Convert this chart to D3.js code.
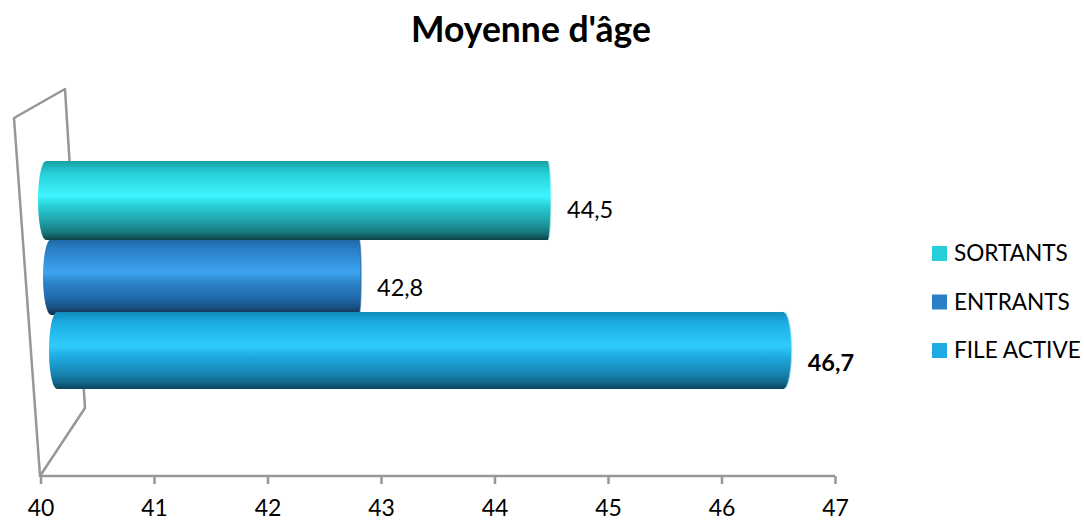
<!DOCTYPE html>
<html>
<head>
<meta charset="utf-8">
<script src="https://d3js.org/d3.v7.min.js"></script>
<style>
  html, body { margin: 0; padding: 0; background: #fff; }
  svg { display: block; }
  text { font-family: Lato, "Open Sans", sans-serif; fill: #000; }
</style>
</head>
<body>
<script>
var categories = ['SORTANTS', 'ENTRANTS', 'FILE ACTIVE'];
var values = [44.5, 42.8, 46.7];
var valueLabels = ['44,5', '42,8', '46,7'];
var ticks = [40, 41, 42, 43, 44, 45, 46, 47];

// flat colour of each series, used by the legend
var colors = ['#27d0d8', '#2a80c6', '#1eaae2'];
// cylinder shading, top to bottom
var shades = [
    ['#1b9ea4', '#24cdd4', '#3ef5ff', '#28ccd3', '#1f9ca3', '#17797e', '#0d4549'],
    ['#1d66a3', '#2a80c6', '#3ea4f2', '#2b82c8', '#2069a8', '#1a4f80', '#102c44'],
    ['#128cbc', '#1bacE2', '#30ccff', '#1eaae0', '#1888b6', '#126c92', '#0b4560']
];
var shadeStops = [0, 0.14, 0.44, 0.58, 0.78, 0.9, 1];
// thin rim on the right end of each cylinder
var rimColors = ['#bdf3f5', '#1f5f96', '#a8e8fb'];

var width = 1084, height = 520;

var svg = d3.select('body').append('svg')
    .attr('width', width)
    .attr('height', height);

// x axis on the floor of the chart
var x = d3.scaleLinear().domain([40, 47]).range([40.5, 835]);

// each bar stands at its own depth, so it gets its own projected scale
var barRanges = [[38, 836], [43, 838], [49, 825]];
var barTops = [161, 239, 312];
var barBottoms = [240, 315, 389];
var capRight = [3, 2, 8];
var labelShift = [17, 19, 20];
var drawOrder = [1, 2, 0];

var defs = svg.append('defs');
categories.forEach(function(c, i) {
    var grad = defs.append('linearGradient')
        .attr('id', 'shade' + i)
        .attr('x1', 0).attr('x2', 0)
        .attr('y1', 0).attr('y2', 1);
    shades[i].forEach(function(col, j) {
        grad.append('stop')
            .attr('offset', shadeStops[j])
            .attr('stop-color', col);
    });
});

// title
svg.append('text')
    .attr('x', 531)
    .attr('y', 42)
    .attr('text-anchor', 'middle')
    .style('font-size', '35.5px')
    .style('font-weight', 'bold')
    .text("Moyenne d'âge");

// back wall and side wall of the 3D box
var wallColor = '#979797';
var wallLine = d3.line();
svg.append('path')
    .attr('d', wallLine([[40, 476], [14, 118], [65, 89], [85, 408]]) + 'Z')
    .attr('fill', 'none')
    .attr('stroke', wallColor)
    .attr('stroke-width', 2.5)
    .attr('stroke-linejoin', 'round');

// axis
var axis = d3.axisBottom(x)
    .tickValues(ticks)
    .tickSize(8)
    .tickPadding(16)
    .tickFormat(d3.format('d'));
var axisG = svg.append('g')
    .attr('transform', 'translate(0,476)')
    .call(axis);
axisG.selectAll('.domain')
    .attr('d', 'M' + x.range()[0] + ',0H' + x.range()[1])
    .attr('stroke', wallColor)
    .attr('stroke-width', 2.5);
axisG.selectAll('.tick line')
    .attr('stroke', wallColor)
    .attr('stroke-width', 2.5);
axisG.selectAll('.tick text')
    .style('font-family', 'Lato, "Open Sans", sans-serif')
    .style('font-size', '23px')
    .attr('fill', '#000');

// cylinder outline: bulged left cap, shallow right cap
function cylinder(x0, x1, y0, y1, capR) {
    var capL = 8;
    var r = (y1 - y0) / 2;
    return 'M' + (x0 + capL) + ',' + y0 +
        'L' + (x1 - capR) + ',' + y0 +
        'A' + capR + ',' + r + ' 0 0 1 ' + (x1 - capR) + ',' + y1 +
        'L' + (x0 + capL) + ',' + y1 +
        'A' + capL + ',' + r + ' 0 0 1 ' + (x0 + capL) + ',' + y0 + 'Z';
}

function rim(x1, y0, y1, capR) {
    var r = (y1 - y0) / 2;
    return 'M' + (x1 - capR) + ',' + y0 +
        'A' + capR + ',' + r + ' 0 0 1 ' + (x1 - capR) + ',' + y1;
}

drawOrder.forEach(function(i) {
    var bx = d3.scaleLinear().domain([40, 47]).range(barRanges[i]);
    var end = bx(values[i]);
    svg.append('path')
        .attr('d', cylinder(bx(40), end, barTops[i], barBottoms[i], capRight[i]))
        .attr('fill', 'url(#shade' + i + ')');
    svg.append('path')
        .attr('d', rim(end, barTops[i], barBottoms[i], capRight[i]))
        .attr('fill', 'none')
        .attr('stroke', rimColors[i])
        .attr('stroke-opacity', 0.6)
        .attr('stroke-width', 1.5);
    svg.append('text')
        .attr('x', end + 16)
        .attr('y', (barTops[i] + barBottoms[i]) / 2 + labelShift[i])
        .style('font-size', '23.5px')
        .style('font-weight', i === 2 ? 'bold' : 'normal')
        .text(valueLabels[i]);
});

// legend
var legend = svg.selectAll('.legend')
    .data(categories)
    .enter().append('g')
    .attr('class', 'legend')
    .attr('transform', function(d, i) { return 'translate(932,' + (246 + i * 48.5) + ')'; });
legend.append('rect')
    .attr('width', 15)
    .attr('height', 15)
    .attr('fill', function(d, i) { return colors[i]; });
legend.append('text')
    .attr('x', 22)
    .attr('y', 15)
    .style('font-size', '22.6px')
    .text(function(d) { return d; });
</script>
</body>
</html>
